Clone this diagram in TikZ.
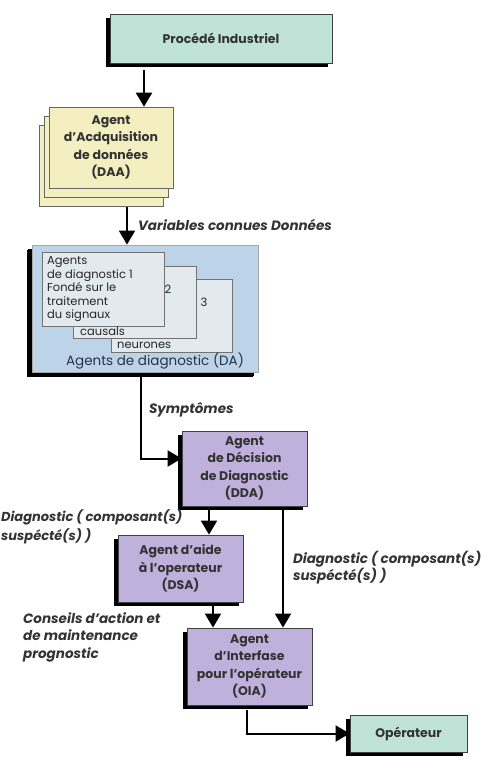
\documentclass[tikz,border=0pt]{standalone}
\usepackage{fontspec}
\setmainfont{Poppins}
\usetikzlibrary{arrows.meta,shadows}

\definecolor{vert}{HTML}{BFE3D6}
\definecolor{jaune}{HTML}{F3EFC0}
\definecolor{bleu}{HTML}{BCD3E8}
\definecolor{bleuclair}{HTML}{E2EAF0}
\definecolor{mauve}{HTML}{C0B0DC}
\definecolor{marine}{HTML}{27324A}

\begin{document}
\begin{tikzpicture}[x=1pt, y=-1pt,
    boite/.style={draw=black!75, line width=0.8pt, inner sep=0pt, align=center, text=black!80,
        font=\bfseries\fontsize{12.5}{17.5}\selectfont,
        drop shadow={shadow xshift=-4pt, shadow yshift=-4pt, opacity=1, fill=black}},
    feuille/.style={draw=black!60, line width=0.6pt, fill=jaune, inner sep=0pt},
    carte/.style={draw=black!55, line width=0.6pt, fill=bleuclair, inner sep=0pt},
    petit/.style={inner sep=0pt, text=black!85, font=\fontsize{11.5}{13.5}\selectfont, align=left},
    etiq/.style={inner sep=0pt, text=black!80, align=left, font=\bfseries\itshape\fontsize{13.5}{14}\selectfont},
    fleche/.style={line width=2pt, -{Triangle[width=16pt,length=14pt]}}]
    \useasboundingbox (0, 0) rectangle (491, 768);

    \node[boite, fill=vert, minimum width=222pt, minimum height=49pt] at (221, 38.5) (P) {Procédé Industriel};

    \node[feuille, minimum width=124pt, minimum height=81pt] at (101, 165.5) (DAA3) {};
    \node[feuille, minimum width=124pt, minimum height=81pt] at (106, 156.5) (DAA2) {};
    \node[feuille, minimum width=124pt, minimum height=81pt, align=center, text=black!80,
        font=\bfseries\fontsize{12.5}{17.5}\selectfont] at (111, 147.5) (DAA)
        {Agent\\d'Acdquisition\\de données\\(DAA)};

    \node[boite, fill=bleu, draw=black!35, drop shadow={shadow xshift=-5pt, shadow yshift=-5pt, opacity=1, fill=black},
        minimum width=226pt, minimum height=127pt] at (145, 308.5) (DA) {};
    \node[carte, minimum width=121pt, minimum height=73pt] at (171.5, 315.5) (C3) {};
    \node[carte, minimum width=123pt, minimum height=72pt] at (134.5, 302) (C2) {};
    \node[carte, minimum width=122pt, minimum height=74pt] at (103, 289) (C1) {};
    \node[petit, anchor=west] at (47, 289.5) (T1)
        {Agents\\de diagnostic 1\\Fondé sur le\\traitement\\du signaux};
    \node[petit] at (168, 289) (T2) {2};
    \node[petit] at (204, 302) (T3) {3};
    \node[petit, anchor=west] at (80, 331) (T4) {causals};
    \node[petit, anchor=west] at (117, 345) (T5) {neurones};
    \node[inner sep=0pt, text=marine, font=\fontsize{13.5}{14}\selectfont] at (155, 361) (TDA)
        {Agents de diagnostic (DA)};

    \node[boite, fill=mauve, minimum width=125pt, minimum height=75pt] at (244.5, 468.5) (DDA)
        {Agent\\de Décision\\de Diagnostic\\(DDA)};
    \node[boite, fill=mauve, minimum width=125pt, minimum height=67pt] at (180.5, 568.5) (DSA)
        {Agent d'aide\\à l'operateur\\(DSA)};
    \node[boite, fill=mauve, minimum width=125pt, minimum height=77pt] at (249.5, 666.5) (OIA)
        {Agent\\d'Interfase\\pour l'opérateur\\(OIA)};
    \node[boite, fill=vert, minimum width=117pt, minimum height=37pt] at (408.5, 733.5) (Op) {Opérateur};

    \draw[fleche] ([xshift=-77pt, yshift=-7pt]P.south) -- ([xshift=33pt]DAA.north);
    \draw[fleche] ([xshift=16pt, yshift=-19pt]DAA.south) -- ([xshift=-18pt]DA.north)
        node[etiq, right=10pt, pos=.47] {Variables connues Données};
    \draw[fleche] ([xshift=-4pt, yshift=-5pt]DA.south) |- ([yshift=10pt]DDA.west)
        node[etiq, right=7pt, pos=.2] {Symptômes};
    \draw[fleche] ([xshift=-35.5pt, yshift=-4pt]DDA.south) -- ([xshift=28.5pt]DSA.north);
    \draw[fleche] ([xshift=38.5pt, yshift=-4pt]DDA.south) -- ([xshift=33.5pt]OIA.north)
        node[etiq, right=9pt, pos=.49] {Diagnostic ( composant(s)\\suspécté(s) )};
    \draw[fleche] ([xshift=32.5pt, yshift=-4pt]DSA.south) -- ([xshift=-36.5pt]OIA.north);
    \draw[fleche] ([xshift=-2.5pt, yshift=-5pt]OIA.south) |- (Op.west);

    \node[etiq, anchor=west, font=\bfseries\itshape\fontsize{13}{19}\selectfont] at (1, 527) (L1)
        {Diagnostic ( composant(s)\\suspécté(s) )};
    \node[etiq, anchor=west, font=\bfseries\itshape\fontsize{13.5}{17.5}\selectfont] at (23, 637) (L2)
        {Conseils d'action et\\de maintenance\\prognostic};
\end{tikzpicture}
\end{document}
